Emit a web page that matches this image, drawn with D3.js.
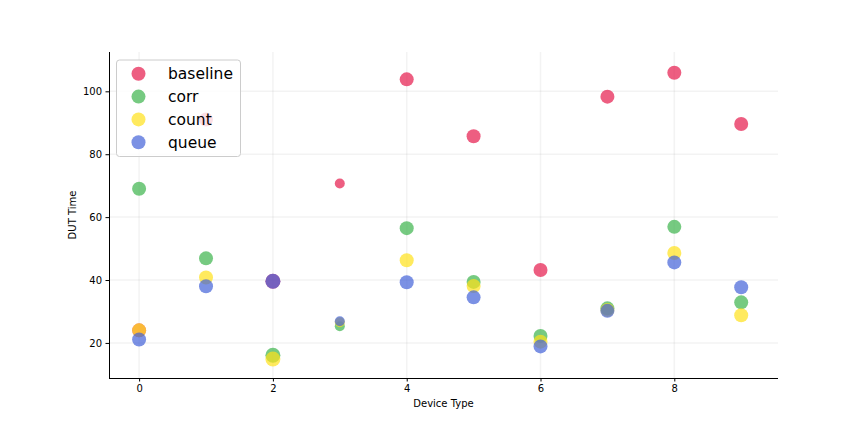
<!DOCTYPE html>
<html><head><meta charset="utf-8">
<script src="https://cdn.jsdelivr.net/npm/d3@7"></script>
<style>body{margin:0;background:#fff;} text{font-family:"DejaVu Sans",sans-serif;}</style>
</head><body><svg id="c" width="864" height="432"></svg>
<script>
const devices = [0,1,2,3,4,5,6,7,8,9];
const seriesNames = ["baseline","corr","count","queue"];
const colors = ["#e6194b","#3cb44b","#ffe119","#4363d8"];
const baseline = [24.0, 91.0, 39.6, 70.7, 103.8, 85.7, 43.2, 98.3, 105.9, 89.6];
const corr     = [69.0, 46.9, 16.1, 25.3, 56.5, 39.4, 22.2, 31.0, 56.9, 32.9];
const count    = [24.0, 40.8, 14.9, 26.6, 46.3, 38.1, 20.4, 30.5, 48.6, 28.8];
const queue    = [21.1, 38.0, 39.6, 26.9, 39.3, 34.5, 18.9, 30.2, 45.6, 37.7];
const markerRadius = [7, 7, 7.5, 5, 7, 7, 7, 7, 7, 7];
const xTicks = [0,2,4,6,8];
const yTicks = [20,40,60,80,100];
const seriesData = [baseline, corr, count, queue];

const svg = d3.select("#c");
const m = {l:109, r:778, t:52, b:378};
const x = d3.scaleLinear().domain([-0.45, 9.55]).range([m.l, m.r]);
const y = d3.scaleLinear().domain([8.85, 112.5]).range([m.b, m.t]);

// grid
const g = svg.append("g");
g.selectAll(".gx").data(xTicks).enter().append("line")
  .attr("x1", d=>x(d)).attr("x2", d=>x(d)).attr("y1", m.t).attr("y2", m.b)
  .attr("stroke", "#b0b0b0").attr("stroke-opacity", 0.15).attr("stroke-width", 1.5);
g.selectAll(".gy").data(yTicks).enter().append("line")
  .attr("x1", m.l).attr("x2", m.r).attr("y1", d=>y(d)).attr("y2", d=>y(d))
  .attr("stroke", "#b0b0b0").attr("stroke-opacity", 0.15).attr("stroke-width", 1.5);

// points
seriesData.forEach((vals, si) => {
  svg.append("g").selectAll("circle").data(devices).enter().append("circle")
    .attr("cx", d=>x(d)).attr("cy", d=>y(vals[d])).attr("r", d=>markerRadius[d])
    .attr("fill", colors[si]).attr("fill-opacity", 0.7);
});

// axes
const xa = svg.append("g").attr("transform", `translate(0,${m.b})`)
  .call(d3.axisBottom(x).tickValues(xTicks).tickSize(3.5).tickPadding(3.5).tickFormat(d3.format("d")));
const ya = svg.append("g").attr("transform", `translate(${m.l},0)`)
  .call(d3.axisLeft(y).tickValues(yTicks).tickSize(3.5).tickPadding(3.5).tickFormat(d3.format("d")));
[xa, ya].forEach(a => {
  a.selectAll("text").attr("font-size", 10).attr("fill", "#000").style("font-family", "DejaVu Sans");
  a.selectAll("line").attr("stroke", "#000").attr("stroke-width", 1);
  a.select(".domain").remove();
});
svg.append("line").attr("x1", m.l).attr("x2", m.r).attr("y1", m.b + 0.5).attr("y2", m.b + 0.5)
  .attr("stroke", "#000").attr("stroke-width", 1).attr("shape-rendering", "crispEdges");
svg.append("line").attr("x1", m.l + 0.5).attr("x2", m.l + 0.5).attr("y1", m.t).attr("y2", m.b)
  .attr("stroke", "#000").attr("stroke-width", 1).attr("shape-rendering", "crispEdges");

svg.append("text").attr("x", (m.l+m.r)/2).attr("y", 407).attr("text-anchor","middle").attr("font-size", 10).text("Device Type");
svg.append("text").attr("transform", `translate(76,${(m.t+m.b)/2}) rotate(-90)`).attr("text-anchor","middle").attr("font-size", 10).text("DUT Time");

// legend
const lg = svg.append("g");
lg.append("rect").attr("x", 116.5).attr("y", 60).attr("width", 124).attr("height", 96.5).attr("rx", 3)
  .attr("fill", "#fff").attr("fill-opacity", 0.8).attr("stroke", "#cccccc").attr("stroke-width", 1);
seriesNames.forEach((n, i) => {
  const cy = 73.8 + i*22.8;
  lg.append("circle").attr("cx", 138.5).attr("cy", cy).attr("r", 7).attr("fill", colors[i]).attr("fill-opacity", 0.7);
  lg.append("text").attr("x", 168).attr("y", cy + 5.5).attr("font-size", 15.5).attr("fill", "#000").text(n);
});
</script></body></html>
